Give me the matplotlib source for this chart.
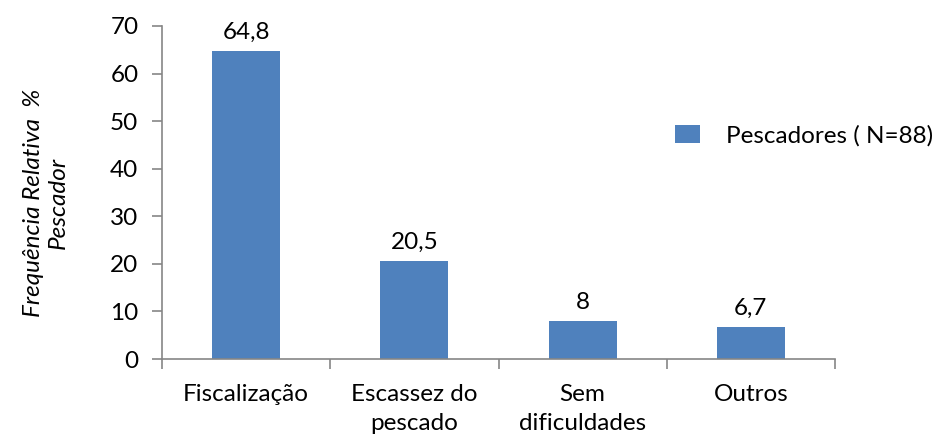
import matplotlib
matplotlib.use("Agg")
import matplotlib.pyplot as plt
from matplotlib.patches import Patch
import numpy as np

categories = ["Fiscalização", "Escassez do\npescado", "Sem\ndificuldades", "Outros"]
values = [64.8, 20.5, 8, 6.7]
value_labels = ["64,8", "20,5", "8", "6,7"]
series_name = "Pescadores ( N=88)"
y_ticks = [0, 10, 20, 30, 40, 50, 60, 70]

plt.rcParams["font.family"] = ["Lato", "DejaVu Sans"]
bar_color = "#4F81BD"
axis_color = "#868686"
fs = 17.5

fig = plt.figure(figsize=(9.34, 4.36), dpi=100)
ax = fig.add_axes([162 / 934, 1 - 359 / 436, (835 - 162) / 934, (359 - 26) / 436])

x = np.arange(len(categories))
bars = ax.bar(x, values, width=0.405, color=bar_color, zorder=2)

for xi, v, lab in zip(x, values, value_labels):
    ax.annotate(lab, (xi, v), xytext=(0, 6), textcoords="offset points",
                ha="center", va="bottom", fontsize=fs, color="black")

ax.set_xlim(-0.5, len(categories) - 0.5)
ax.set_ylim(0, 70)
ax.set_yticks(y_ticks)
ax.set_yticklabels([str(t) for t in y_ticks], fontsize=fs)

# category labels centred under bars, tick marks at category boundaries
ax.set_xticks(x)
ax.set_xticklabels(categories, fontsize=fs, linespacing=1.45, va="top")
ax.tick_params(axis="x", length=0, pad=18)
ax.set_xticks(np.arange(-0.5, len(categories), 1.0), minor=True)
ax.tick_params(axis="x", which="minor", length=7, width=1.2, color=axis_color, direction="out")
ax.tick_params(axis="y", length=7, width=1.2, color=axis_color, direction="out", pad=10)

for side in ["top", "right"]:
    ax.spines[side].set_visible(False)
for side in ["left", "bottom"]:
    ax.spines[side].set_color(axis_color)
    ax.spines[side].set_linewidth(1.2)

fig.text(46 / 934, 1 - 203 / 436, "Frequência Relativa  %\nPescador", rotation=90,
         ha="center", va="center", fontsize=fs, style="italic", linespacing=1.25)

handle = Patch(facecolor=bar_color, edgecolor="none")
fig.legend([handle], [series_name], loc="center left",
           bbox_to_anchor=(675 / 934, 1 - 136 / 436), frameon=False, fontsize=fs,
           borderpad=0, borderaxespad=0,
           handlelength=1.03, handleheight=0.74, handletextpad=1.07)

fig.savefig("out.png", dpi=100)
